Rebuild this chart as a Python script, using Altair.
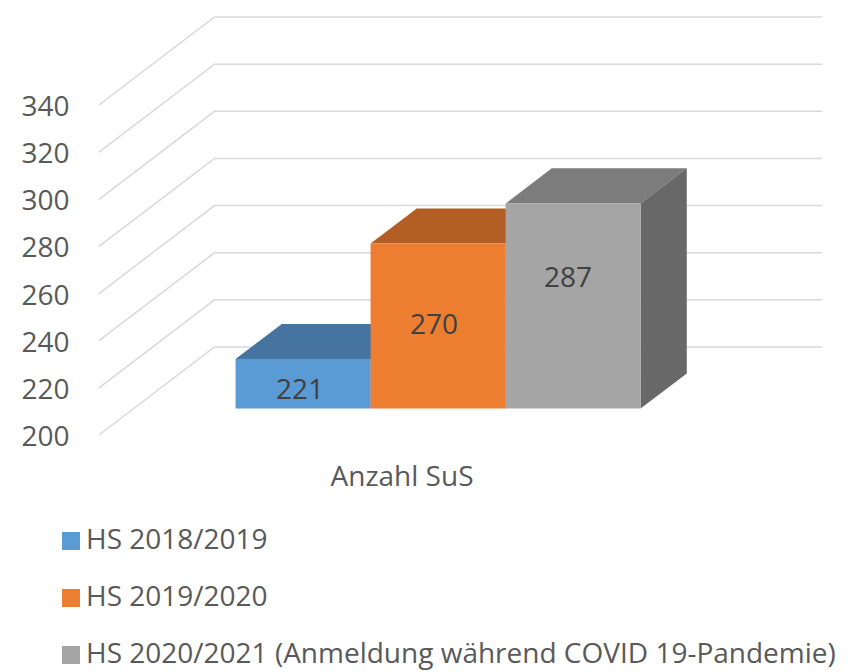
import altair as alt
import pandas as pd

series = ["HS 2018/2019", "HS 2019/2020", "HS 2020/2021 (Anmeldung während COVID 19-Pandemie)"]
values = [221, 270, 287]
ticks = [200, 220, 240, 260, 280, 300, 320, 340]
category = "Anzahl SuS"
front_colors = ["#5B9BD5", "#ED7D31", "#A5A5A5"]
top_colors = ["#44749F", "#B25E25", "#7C7C7C"]
side_colors = ["#3C6690", "#9E5320", "#686868"]

# Oblique projection: one x unit is one bar width, y units are chart values.
BAR_PX, VAL_PX = 135.0, 2.357
DEPTH_X, DEPTH_Y = 115.5 / BAR_PX, 88.0 / VAL_PX
FLOOR_W, BAR0, D0, D1 = 4.5, 0.755, 0.30, 0.70


def ux(px):
    return (px - 99.0) / BAR_PX


def uy(py):
    return 200.0 + (435.0 - py) / VAL_PX


def pr(c, v, d):
    return c + d * DEPTH_X, v + d * DEPTH_Y


grid, faces, fronts = [], [], []
for t in ticks:
    for i, (c, d) in enumerate([(0, 0), (0, 1), (FLOOR_W, 1)]):
        x, y = pr(c, t, d)
        grid.append({"tick": t, "i": i, "x": x, "y": y})

for i, (s, v) in enumerate(zip(series, values)):
    c0, c1 = BAR0 + i, BAR0 + i + 1
    fx0, fy0 = pr(c0, 200, D0)
    fx1, fy1 = pr(c1, v, D0)
    fronts.append({"series": s, "x": fx0, "x2": fx1, "y": fy0, "y2": fy1})
    # top face
    bx0, by = pr(c0, v, D1)
    bx1, _ = pr(c1, v, D1)
    for x, y, y2 in [(fx0, fy1, fy1), (bx0, by, fy1), (fx1, by, fy1), (bx1, by, by)]:
        faces.append({"face": f"t{i}", "x": x, "y": y, "y2": y2, "shade": top_colors[i]})
    # side face
    _, bb = pr(c1, 200, D1)
    for x, y, y2 in [(fx1, fy0, fy1), (bx1, bb, by)]:
        faces.append({"face": f"s{i}", "x": x, "y": y, "y2": y2, "shade": side_colors[i]})

X = alt.Scale(domain=[ux(8), ux(842)], nice=False, zero=False)
Y = alt.Scale(domain=[uy(672), uy(8)], nice=False, zero=False)
x_enc = alt.X("x:Q", scale=X, axis=None)
y_enc = alt.Y("y:Q", scale=Y, axis=None)

FONT = "Open Sans"
GREY = "#595959"

grid_layer = alt.Chart(pd.DataFrame(grid)).mark_line(color="#D9D9D9", strokeWidth=1.5).encode(
    x=x_enc, y=y_enc, detail="tick:N", order="i:Q"
)
face_layer = alt.Chart(pd.DataFrame(faces)).mark_area(opacity=1).encode(
    x=x_enc, y=y_enc, y2="y2:Q", detail="face:N",
    fill=alt.Fill("shade:N", scale=None, legend=None),
)
front_layer = alt.Chart(pd.DataFrame(fronts)).mark_rect(opacity=1).encode(
    x=x_enc, x2="x2:Q", y=y_enc, y2="y2:Q",
    color=alt.Color(
        "series:N",
        scale=alt.Scale(domain=series, range=front_colors),
        legend=alt.Legend(
            title=None, orient="none", legendX=49, legendY=519, columns=1,
            symbolType="square", symbolSize=324, symbolStrokeWidth=0, symbolOpacity=1,
            labelFont=FONT, labelFontSize=28, labelColor=GREY, labelLimit=0,
            labelOffset=1, rowPadding=29, padding=0,
        ),
    ),
)
tick_layer = alt.Chart(pd.DataFrame({"x": [ux(69.5)] * len(ticks), "y": ticks, "t": ticks})).mark_text(
    align="right", baseline="middle", font=FONT, fontSize=28, color=GREY, dy=3
).encode(x=x_enc, y=y_enc, text="t:N")
label_layer = alt.Chart(pd.DataFrame({
    "x": [ux(300), ux(434), ux(568)],
    "y": [uy(390), uy(325), uy(278)],
    "t": values,
})).mark_text(align="center", baseline="middle", font=FONT, fontSize=28, color="#404040", dy=1).encode(
    x=x_enc, y=y_enc, text="t:N"
)
cat_layer = alt.Chart(pd.DataFrame({"x": [ux(402)], "y": [uy(477)], "t": [category]})).mark_text(
    align="center", baseline="middle", font=FONT, fontSize=28, color=GREY, dy=1
).encode(x=x_enc, y=y_enc, text="t:N")

chart = (
    alt.layer(grid_layer, face_layer, front_layer, tick_layer, label_layer, cat_layer)
    .properties(width=834, height=664, padding=0, autosize=alt.AutoSizeParams(type="none"), background="white")
    .configure_view(stroke=None)
)
chart.save("out.html", embed_options={"renderer": "svg", "actions": False})
